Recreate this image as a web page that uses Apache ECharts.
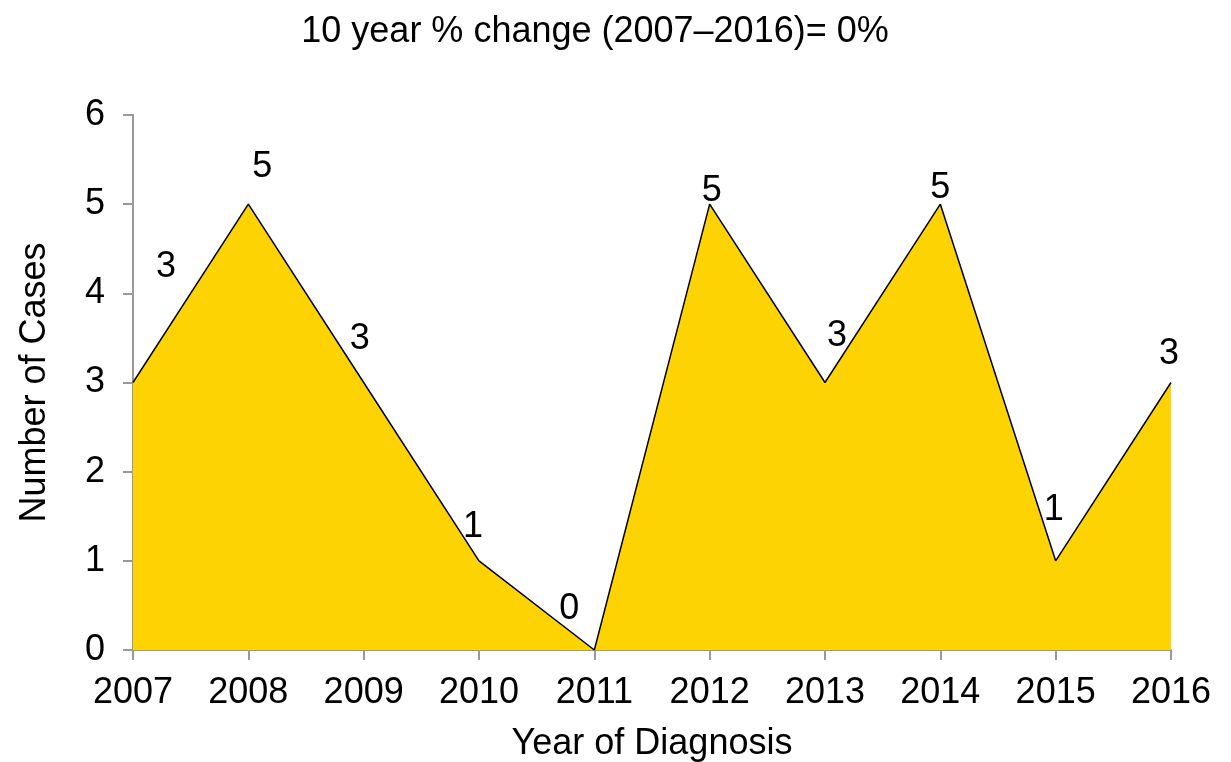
<!DOCTYPE html>
<html>
<head>
<meta charset="utf-8">
<script src="https://cdn.jsdelivr.net/npm/echarts@6/dist/echarts.min.js"></script>
<style>
  html, body { margin: 0; padding: 0; background: #fff; }
  #chart { width: 1231px; height: 762px; }
</style>
</head>
<body>
<div id="chart"></div>
<script>
// data
const years = ['2007', '2008', '2009', '2010', '2011', '2012', '2013', '2014', '2015', '2016'];
const cases = [3, 5, 3, 1, 0, 5, 3, 5, 1, 3];
const yTicks = [0, 1, 2, 3, 4, 5, 6];

// label nudges (pixels) so the numbers sit where the original put them
const labelNudge = [[33, -115], [14, -37], [-4, -43], [-6, -34], [-25, -41],
                    [2, -13], [12, -46], [0, -16], [-2, -51], [-2, -28]];

const font = 'Liberation Sans, Arial, sans-serif';
const axisGray = '#9a9a9a';

let myChart = echarts.init(document.getElementById('chart'));
let options = {
  animation: false,
  title: {
    text: '10 year % change (2007\u20132016)= 0%',
    left: 590,
    top: 9,
    textAlign: 'center',
    textStyle: { fontFamily: font, fontSize: 36, fontWeight: 'normal', color: '#000' }
  },
  grid: { left: 133, right: 60, top: 115, bottom: 112, containLabel: false, outerBoundsMode: 'none' },
  xAxis: {
    type: 'category',
    data: years,
    boundaryGap: false,
    name: 'Year of Diagnosis',
    nameLocation: 'middle',
    nameGap: 76,
    nameTextStyle: { fontFamily: font, fontSize: 36, color: '#000' },
    axisLine: { lineStyle: { color: axisGray, width: 2 } },
    axisTick: { alignWithLabel: true, length: 10, lineStyle: { color: axisGray, width: 2 } },
    axisLabel: { fontFamily: font, fontSize: 36, color: '#000', margin: 25 }
  },
  yAxis: {
    type: 'value',
    min: yTicks[0],
    max: yTicks[yTicks.length - 1],
    interval: 1,
    name: 'Number of Cases',
    nameLocation: 'middle',
    nameGap: 80,
    nameTextStyle: { fontFamily: font, fontSize: 36, color: '#000' },
    axisLine: { show: true, lineStyle: { color: axisGray, width: 2 } },
    axisTick: { show: true, length: 10, lineStyle: { color: axisGray, width: 2 } },
    axisLabel: { fontFamily: font, fontSize: 36, color: '#000', margin: 28 },
    splitLine: { show: false }
  },
  series: [{
    type: 'line',
    data: cases.map((v, i) => ({
      value: v,
      label: { offset: labelNudge[i] }
    })),
    symbol: 'circle',
    symbolSize: 1,
    itemStyle: { color: 'rgba(0,0,0,0)' },
    lineStyle: { color: '#000', width: 1.5 },
    areaStyle: { color: '#fed304', opacity: 1 },
    label: {
      show: true,
      position: 'inside',
      fontFamily: font,
      fontSize: 36,
      color: '#000'
    }
  }]
};
myChart.setOption(options);
</script>
</body>
</html>
